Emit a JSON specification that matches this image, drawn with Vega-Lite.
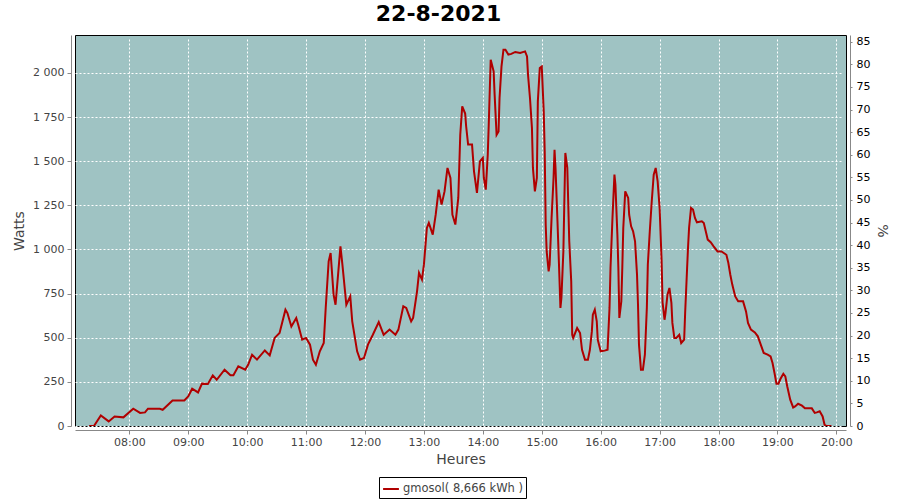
{
  "$schema": "https://vega.github.io/schema/vega-lite/v6.json",
  "width": 771,
  "height": 391,
  "autosize": {"type": "none"},
  "padding": {"left": 75, "top": 35, "right": 54, "bottom": 74},
  "background": "white",
  "title": {
    "text": "22-8-2021",
    "font": "DejaVu Sans",
    "fontSize": 22,
    "fontWeight": "bold",
    "color": "black",
    "anchor": "middle",
    "offset": 6,
    "dx": -22
  },
  "config": {
    "view": {"stroke": "black", "strokeWidth": 1, "fill": "#9fc3c3"},
    "axis": {
      "labelFont": "DejaVu Sans",
      "labelFontSize": 11,
      "labelColor": "#444444",
      "titleFont": "DejaVu Sans",
      "titleFontSize": 14,
      "titleFontWeight": "normal",
      "titleColor": "#444444",
      "domainColor": "#888888",
      "tickColor": "#888888",
      "gridColor": "white",
      "gridDash": [2, 2],
      "gridWidth": 1,
      "gridOpacity": 1,
      "offset": 4
    }
  },
  "layer": [
    {
      "data": {
        "values": [
          {"t":"07:19","w":0},{"t":"07:24","w":0},{"t":"07:31","w":60},{"t":"07:39","w":26},{"t":"07:45","w":54},{"t":"07:54","w":49},
          {"t":"08:04","w":98},{"t":"08:11","w":74},{"t":"08:16","w":77},{"t":"08:19","w":98},{"t":"08:31","w":98},{"t":"08:34","w":92},
          {"t":"08:44","w":145},{"t":"08:56","w":145},{"t":"09:00","w":168},{"t":"09:04","w":211},{"t":"09:10","w":190},{"t":"09:14","w":240},
          {"t":"09:20","w":238},{"t":"09:25","w":287},{"t":"09:29","w":262},{"t":"09:37","w":319},{"t":"09:43","w":287},{"t":"09:46","w":287},
          {"t":"09:51","w":338},{"t":"09:58","w":319},{"t":"10:01","w":347},{"t":"10:05","w":404},{"t":"10:10","w":376},{"t":"10:18","w":428},
          {"t":"10:23","w":400},{"t":"10:28","w":499},{"t":"10:33","w":527},{"t":"10:39","w":659},{"t":"10:41","w":640},{"t":"10:45","w":564},
          {"t":"10:50","w":612},{"t":"10:52","w":574},{"t":"10:56","w":489},{"t":"11:00","w":499},{"t":"11:04","w":461},{"t":"11:07","w":376},
          {"t":"11:10","w":347},{"t":"11:14","w":423},{"t":"11:18","w":470},{"t":"11:20","w":669},{"t":"11:23","w":933},{"t":"11:25","w":980},
          {"t":"11:28","w":744},{"t":"11:30","w":687},{"t":"11:32","w":819},{"t":"11:35","w":1018},{"t":"11:37","w":914},{"t":"11:41","w":687},
          {"t":"11:45","w":734},{"t":"11:47","w":593},{"t":"11:52","w":423},{"t":"11:55","w":376},{"t":"11:59","w":385},{"t":"12:03","w":461},
          {"t":"12:08","w":517},{"t":"12:14","w":589},{"t":"12:19","w":517},{"t":"12:25","w":546},{"t":"12:31","w":517},{"t":"12:34","w":546},
          {"t":"12:39","w":678},{"t":"12:42","w":669},{"t":"12:47","w":593},{"t":"12:49","w":612},{"t":"12:53","w":763},{"t":"12:55","w":867},
          {"t":"12:58","w":829},{"t":"13:00","w":914},{"t":"13:03","w":1122},{"t":"13:05","w":1150},{"t":"13:09","w":1084},{"t":"13:12","w":1197},
          {"t":"13:15","w":1339},{"t":"13:18","w":1254},{"t":"13:21","w":1329},{"t":"13:24","w":1462},{"t":"13:27","w":1405},{"t":"13:29","w":1197},
          {"t":"13:32","w":1141},{"t":"13:35","w":1292},{"t":"13:37","w":1650},{"t":"13:39","w":1811},{"t":"13:42","w":1770},{"t":"13:43","w":1698},
          {"t":"13:45","w":1594},{"t":"13:49","w":1594},{"t":"13:51","w":1443},{"t":"13:54","w":1320},{"t":"13:57","w":1499},{"t":"14:00","w":1519},
          {"t":"14:01","w":1405},{"t":"14:03","w":1339},{"t":"14:05","w":1537},{"t":"14:06","w":1707},{"t":"14:08","w":2075},{"t":"14:11","w":2009},
          {"t":"14:12","w":1877},{"t":"14:14","w":1650},{"t":"14:16","w":1669},{"t":"14:17","w":1858},{"t":"14:19","w":2037},{"t":"14:21","w":2132},
          {"t":"14:23","w":2132},{"t":"14:26","w":2104},{"t":"14:29","w":2108},{"t":"14:33","w":2119},{"t":"14:38","w":2113},{"t":"14:43","w":2122},
          {"t":"14:45","w":2094},{"t":"14:46","w":1990},{"t":"14:48","w":1858},{"t":"14:50","w":1688},{"t":"14:51","w":1462},{"t":"14:53","w":1329},
          {"t":"14:55","w":1405},{"t":"14:56","w":1839},{"t":"14:58","w":2028},{"t":"15:00","w":2037},{"t":"15:02","w":1782},{"t":"15:03","w":1556},
          {"t":"15:04","w":1141},{"t":"15:05","w":989},{"t":"15:07","w":876},{"t":"15:08","w":914},{"t":"15:10","w":1179},{"t":"15:12","w":1405},
          {"t":"15:13","w":1565},{"t":"15:14","w":1462},{"t":"15:16","w":1160},{"t":"15:18","w":839},{"t":"15:19","w":669},{"t":"15:20","w":725},
          {"t":"15:22","w":989},{"t":"15:23","w":1273},{"t":"15:24","w":1547},{"t":"15:26","w":1462},{"t":"15:28","w":1046},{"t":"15:30","w":819},
          {"t":"15:31","w":517},{"t":"15:32","w":499},{"t":"15:36","w":555},{"t":"15:39","w":527},{"t":"15:41","w":432},{"t":"15:44","w":376},
          {"t":"15:47","w":376},{"t":"15:49","w":432},{"t":"15:51","w":536},{"t":"15:52","w":631},{"t":"15:54","w":659},{"t":"15:56","w":593},
          {"t":"15:57","w":489},{"t":"16:00","w":423},{"t":"16:04","w":427},{"t":"16:07","w":432},{"t":"16:09","w":669},{"t":"16:10","w":895},
          {"t":"16:12","w":1179},{"t":"16:14","w":1424},{"t":"16:15","w":1367},{"t":"16:17","w":1084},{"t":"16:18","w":895},{"t":"16:19","w":612},
          {"t":"16:21","w":706},{"t":"16:22","w":895},{"t":"16:23","w":1122},{"t":"16:25","w":1329},{"t":"16:28","w":1292},{"t":"16:29","w":1197},
          {"t":"16:31","w":1131},{"t":"16:33","w":1103},{"t":"16:35","w":1046},{"t":"16:37","w":857},{"t":"16:38","w":687},{"t":"16:39","w":461},
          {"t":"16:41","w":319},{"t":"16:43","w":319},{"t":"16:45","w":404},{"t":"16:47","w":669},{"t":"16:48","w":914},{"t":"16:50","w":1103},
          {"t":"16:52","w":1273},{"t":"16:54","w":1424},{"t":"16:56","w":1462},{"t":"16:58","w":1386},{"t":"17:00","w":1235},{"t":"17:02","w":942},
          {"t":"17:03","w":700},{"t":"17:05","w":602},{"t":"17:06","w":640},{"t":"17:08","w":744},{"t":"17:10","w":782},{"t":"17:12","w":697},
          {"t":"17:13","w":584},{"t":"17:15","w":499},{"t":"17:17","w":499},{"t":"17:20","w":517},{"t":"17:22","w":470},{"t":"17:25","w":489},
          {"t":"17:26","w":640},{"t":"17:28","w":895},{"t":"17:29","w":1018},{"t":"17:30","w":1122},{"t":"17:32","w":1235},{"t":"17:34","w":1226},
          {"t":"17:36","w":1179},{"t":"17:38","w":1154},{"t":"17:43","w":1160},{"t":"17:45","w":1150},{"t":"17:47","w":1103},{"t":"17:49","w":1056},
          {"t":"17:52","w":1041},{"t":"17:55","w":1018},{"t":"17:59","w":989},{"t":"18:03","w":989},{"t":"18:08","w":970},{"t":"18:10","w":923},
          {"t":"18:12","w":857},{"t":"18:14","w":801},{"t":"18:17","w":734},{"t":"18:20","w":706},{"t":"18:25","w":706},{"t":"18:28","w":649},
          {"t":"18:30","w":584},{"t":"18:33","w":546},{"t":"18:37","w":530},{"t":"18:40","w":508},{"t":"18:43","w":461},{"t":"18:46","w":414},
          {"t":"18:50","w":404},{"t":"18:53","w":394},{"t":"18:55","w":357},{"t":"18:57","w":300},{"t":"18:59","w":240},{"t":"19:01","w":240},
          {"t":"19:03","w":266},{"t":"19:06","w":296},{"t":"19:08","w":281},{"t":"19:10","w":224},{"t":"19:13","w":149},{"t":"19:16","w":105},
          {"t":"19:18","w":111},{"t":"19:21","w":126},{"t":"19:25","w":115},{"t":"19:28","w":100},{"t":"19:35","w":100},{"t":"19:38","w":74},
          {"t":"19:40","w":77},{"t":"19:43","w":83},{"t":"19:46","w":54},{"t":"19:48","w":7},{"t":"19:50","w":0},{"t":"19:55","w":0}
        ],
        "format": {"parse": {"t": "utc:'%H:%M'"}}
      },
      "mark": {"type": "line", "strokeWidth": 2, "clip": true},
      "encoding": {
        "x": {
          "field": "t",
          "type": "temporal",
          "scale": {
            "type": "utc",
            "domain": [-2208963318000, -2208916212000],
            "nice": false
          },
          "axis": {
            "title": "Heures",
            "format": "%H:%M",
            "values": [-2208960000000, -2208956400000, -2208952800000, -2208949200000, -2208945600000, -2208942000000, -2208938400000, -2208934800000, -2208931200000, -2208927600000, -2208924000000, -2208920400000, -2208916800000],
            "tickSize": 4,
            "labelPadding": 2,
            "titlePadding": 5,
            "grid": true
          }
        },
        "y": {
          "field": "w",
          "type": "quantitative",
          "scale": {"domain": [0, 2215], "nice": false},
          "axis": {
            "title": "Watts",
            "orient": "left",
            "values": [0, 250, 500, 750, 1000, 1250, 1500, 1750, 2000],
            "labelExpr": "replace(format(datum.value, ','), ',', ' ')",
            "tickSize": 4,
            "labelPadding": 3,
            "titlePadding": 6,
            "grid": true
          }
        },
        "color": {
          "datum": "gmosol( 8,666 kWh )",
          "type": "nominal",
          "scale": {"range": ["#b00000"]},
          "legend": {
            "title": null,
            "orient": "none",
            "legendX": 304,
            "legendY": 442,
            "strokeColor": "black",
            "fillColor": "white",
            "padding": 3,
            "symbolType": "stroke",
            "symbolStrokeWidth": 2,
            "symbolSize": 250,
            "labelOffset": 3,
            "labelFont": "DejaVu Sans",
            "labelFontSize": 11.5,
            "labelColor": "#444444"
          }
        }
      }
    },
    {
      "data": {"values": [{"p": 0}, {"p": 86.5}]},
      "mark": {"type": "point", "opacity": 0},
      "encoding": {
        "y": {
          "field": "p",
          "type": "quantitative",
          "scale": {"domain": [0, 86.5], "nice": false},
          "axis": {
            "title": "%",
            "orient": "right",
            "values": [0, 5, 10, 15, 20, 25, 30, 35, 40, 45, 50, 55, 60, 65, 70, 75, 80, 85],
            "grid": false,
            "tickSize": 2,
            "labelPadding": 4,
            "labelColor": "black",
            "titlePadding": 5
          }
        }
      }
    }
  ],
  "resolve": {"scale": {"y": "independent"}, "axis": {"y": "independent"}}
}
